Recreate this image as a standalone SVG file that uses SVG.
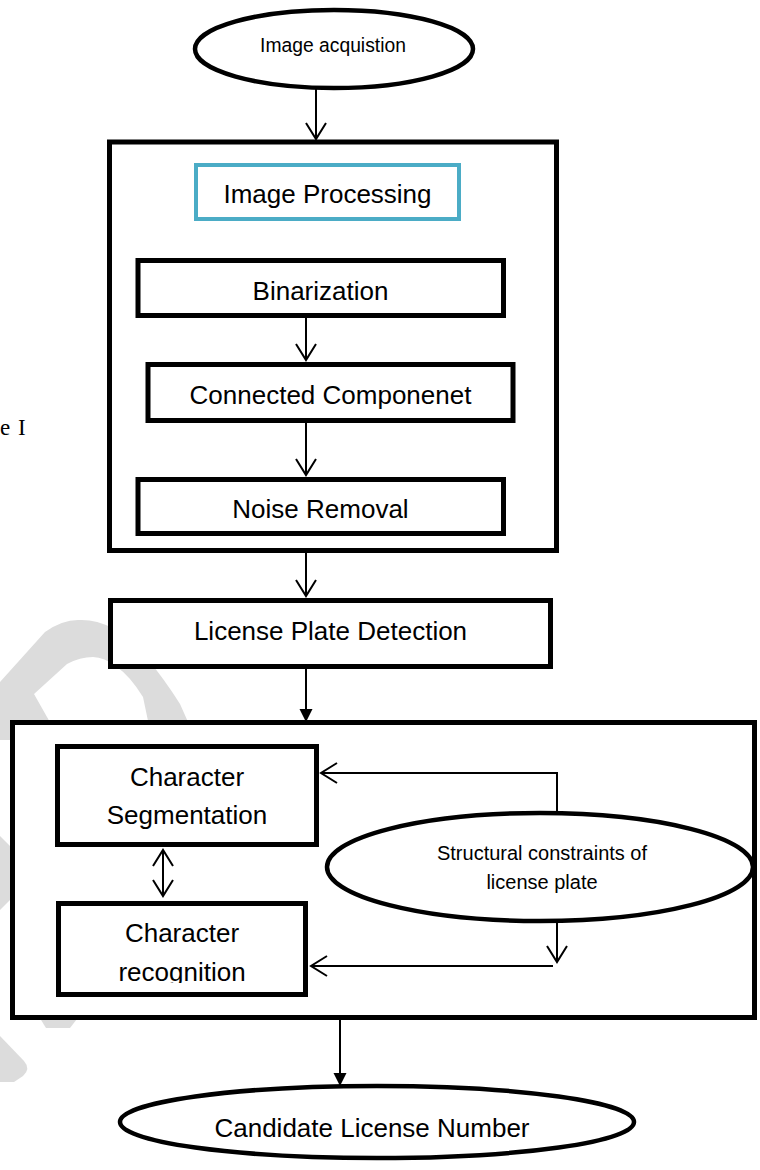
<svg xmlns="http://www.w3.org/2000/svg" width="760" height="1170" viewBox="0 0 760 1170">
  <style>
    .box { fill: #ffffff; stroke: #000000; stroke-width: 5; }
    .frame { fill: #ffffff; stroke: #000000; stroke-width: 5; }
    .oval { fill: #ffffff; stroke: #000000; stroke-width: 4.5; }
    .lbl { font-family: "Liberation Sans", Arial, sans-serif; font-size: 26px; fill: #000000; text-anchor: middle; }
    .small { font-size: 19.3px; }
    .mid { font-size: 20px; }
    .wire { fill: none; stroke: #000000; stroke-width: 2; }
    .open { marker-end: url(#vhead); }
    .solid { marker-end: url(#tri); }
    .wm { fill: #dcdcdc; stroke: none; }
  </style>
  <defs>
    <marker id="vhead" markerUnits="userSpaceOnUse" markerWidth="24" markerHeight="24" viewBox="-18 -12 20 24" refX="0" refY="0" orient="auto-start-reverse">
      <path d="M-16,-10 L0,0 L-16,10" fill="none" stroke="#000000" stroke-width="2"/>
    </marker>
    <marker id="tri" markerUnits="userSpaceOnUse" markerWidth="16" markerHeight="16" viewBox="-14 -8 16 16" refX="0" refY="0" orient="auto">
      <path d="M-13,-6.5 L0,0 L-13,6.5 Z" fill="#000000"/>
    </marker>
    <clipPath id="recClip">
      <rect x="60" y="905" width="244" height="78"/>
    </clipPath>
  </defs>

  <rect width="760" height="1170" fill="#ffffff"/>

  <!-- faint background watermark strokes -->
  <g id="watermark">
    <path class="wm" d="M0,682 L45,632 Q62,620 78,620 Q96,619 112,628 Q132,640 146,657 Q165,680 180,704 L196,740 L152,740 L143,697 Q130,676 117,667 Q104,657 93,657 Q80,657 67,664 L34,694 L60,740 L0,740 Z"/>
    <path class="wm" d="M0,836 L10,846 L10,900 L0,910 Z"/>
    <path class="wm" d="M38,1015 L80,1015 L70,1028 L46,1028 Z"/>
    <path class="wm" d="M0,1036 L24,1061 Q31,1069 23,1076 L14,1082 L0,1082 Z"/>
  </g>

  <!-- serif text at the left margin -->
  <text id="margin-text" font-family="'Liberation Serif', 'Times New Roman', serif" font-size="23" fill="#000000"><tspan x="0" y="435">e</tspan><tspan x="18" y="435">I</tspan></text>

  <g id="image-acquisition">
    <ellipse class="oval" cx="334" cy="49" rx="139" ry="39"/>
    <text class="lbl small" x="333" y="52">Image acquistion</text>
  </g>

  <g id="preprocessing">
    <rect class="frame" x="109.5" y="142" width="447" height="408.5"/>
  </g>
  <g id="image-processing">
    <rect x="196" y="165" width="263" height="54" fill="#ffffff" stroke="#4BACC6" stroke-width="4"/>
    <text class="lbl" x="327.5" y="203">Image Processing</text>
  </g>
  <g id="binarization">
    <rect class="box" x="138" y="260.5" width="365.5" height="55"/>
    <text class="lbl" x="320.5" y="300">Binarization</text>
  </g>
  <g id="connected-component">
    <rect class="box" x="148" y="364.5" width="365" height="56"/>
    <text class="lbl" x="330.5" y="404">Connected Componenet</text>
  </g>
  <g id="noise-removal">
    <rect class="box" x="138" y="479.5" width="365.5" height="54"/>
    <text class="lbl" x="320.5" y="518">Noise Removal</text>
  </g>

  <g id="plate-detection">
    <rect class="box" x="110.5" y="600.5" width="440" height="66"/>
    <text class="lbl" x="330.5" y="640">License Plate Detection</text>
  </g>

  <g id="recognition-stage">
    <rect class="frame" x="12.5" y="722.5" width="742" height="295"/>
  </g>
  <g id="segmentation">
    <rect class="box" x="57.5" y="746.5" width="259" height="98"/>
    <text class="lbl" x="187" y="786">Character</text>
    <text class="lbl" x="187" y="824">Segmentation</text>
  </g>
  <g id="char-recognition">
    <rect class="box" x="58.5" y="903.5" width="247" height="91"/>
    <text class="lbl" x="182" y="942">Character</text>
    <text class="lbl" x="182" y="981" clip-path="url(#recClip)">recognition</text>
  </g>
  <g id="constraints">
    <ellipse class="oval" cx="540" cy="867" rx="213" ry="54"/>
    <text class="lbl mid" x="542" y="860">Structural constraints of</text>
    <text class="lbl mid" x="542" y="889">license plate</text>
  </g>

  <g id="candidate-number">
    <ellipse class="oval" cx="377" cy="1122" rx="257" ry="36"/>
    <text class="lbl" x="372" y="1137">Candidate License Number</text>
  </g>

  <!-- connectors, drawn above the white-filled frames -->
  <g id="connectors">
    <line class="wire open" x1="316" y1="88" x2="316" y2="139"/>
    <line class="wire open" x1="306" y1="316" x2="306" y2="360"/>
    <line class="wire open" x1="306" y1="421" x2="306" y2="475"/>
    <line class="wire open" x1="306" y1="551" x2="306" y2="596"/>
    <line class="wire solid" x1="306" y1="667" x2="306" y2="722"/>
    <line class="wire" x1="163" y1="850" x2="163" y2="896" marker-start="url(#vhead)" marker-end="url(#vhead)"/>
    <polyline class="wire open" points="557,813 557,773 321,773"/>
    <line class="wire open" x1="557" y1="922" x2="557" y2="962"/>
    <line class="wire open" x1="553" y1="966" x2="311" y2="966"/>
    <line class="wire solid" x1="340" y1="1019" x2="340" y2="1086"/>
  </g>
</svg>
